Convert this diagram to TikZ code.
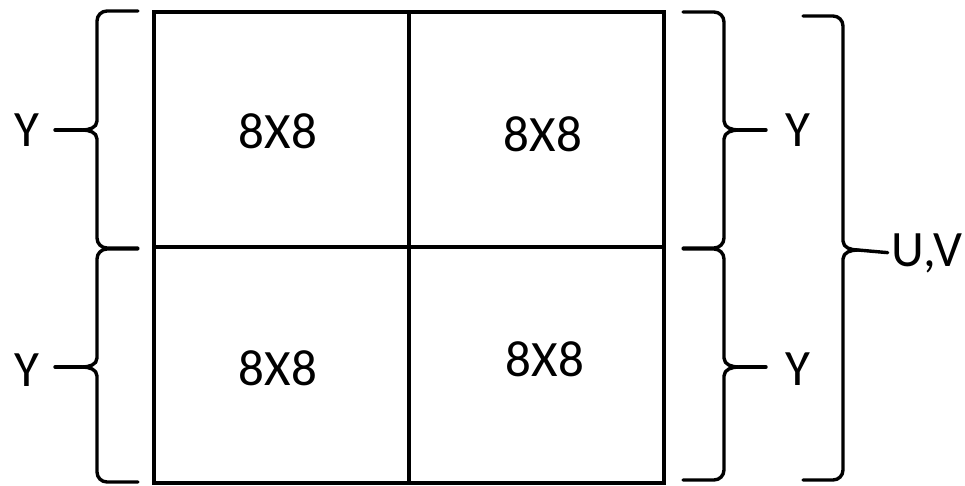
\documentclass[tikz,border=0pt]{standalone}
\usepackage{fontspec}
\setmainfont{Carlito}
\begin{document}
\begin{tikzpicture}[x=1pt,y=-1pt,
  grid/.style={line width=3.2pt},
  br/.style={line width=3.4pt,line join=round,line cap=round},
  lbl/.style={font=\fontsize{51}{60}\selectfont,inner sep=0pt,anchor=center}]
\useasboundingbox (0,0) rectangle (965,485);
% grid
\draw[grid] (154,12) rectangle (664,483);
\draw[grid] (409,12) -- (409,483);
\draw[grid] (154,247) -- (664,247);
% cell labels
\node[lbl] (c11) at (278,131) {8X8};
\node[lbl] (c12) at (543,134) {8X8};
\node[lbl] (c21) at (278,368) {8X8};
\node[lbl] (c22) at (545,359) {8X8};
% side labels
\node[lbl] (yl1) at (27,130) {Y};
\node[lbl] (yl2) at (27,370) {Y};
\node[lbl] (yr1) at (798,130) {Y};
\node[lbl] (yr2) at (798,369) {Y};
\node[lbl] (uv) at (927,253) {U,V};
% left brace 1
\draw[br] (138,11) -- (107,11) to[out=180,in=90] (97,21) -- (97,121) to[out=-90,in=0] (82,130)
          to[out=0,in=90] (97,139) -- (97,238) to[out=-90,in=180] (107,248) -- (138,248);
\coordinate (tl1) at (82,130); \coordinate (el1) at (55,130);
\draw[br] (tl1) -- (el1);
% left brace 2
\draw[br] (138,249) -- (107,249) to[out=180,in=90] (97,259) -- (97,358) to[out=-90,in=0] (82,367)
          to[out=0,in=90] (97,376) -- (97,472) to[out=-90,in=180] (107,482) -- (138,482);
\coordinate (tl2) at (82,367); \coordinate (el2) at (55,367);
\draw[br] (tl2) -- (el2);
% right brace 1
\draw[br] (683,12) -- (714,12) to[out=0,in=90] (724,22) -- (724,121) to[out=-90,in=180] (739,130)
          to[out=180,in=90] (724,139) -- (724,238) to[out=-90,in=0] (714,248) -- (683,248);
\coordinate (tr1) at (739,130); \coordinate (er1) at (766,130);
\draw[br] (tr1) -- (er1);
% right brace 2
\draw[br] (683,249) -- (714,249) to[out=0,in=90] (724,259) -- (724,358) to[out=-90,in=180] (739,367)
          to[out=180,in=90] (724,376) -- (724,470) to[out=-90,in=0] (714,480) -- (683,480);
\coordinate (tr2) at (739,367); \coordinate (er2) at (766,367);
\draw[br] (tr2) -- (er2);
% big brace
\draw[br] (803,16) -- (833,16) to[out=0,in=90] (843,26) -- (843,241) to[out=-90,in=180] (858,250)
          to[out=180,in=90] (843,259) -- (843,470) to[out=-90,in=0] (833,480) -- (803,480);
\coordinate (tb) at (858,250);
\draw[br,shorten >=4pt] (tb) -- (uv.west);
\end{tikzpicture}
\end{document}
